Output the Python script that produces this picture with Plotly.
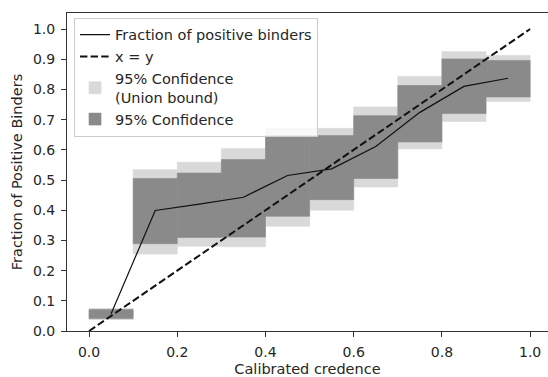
import plotly.graph_objects as go

# Calibration bins (width 0.1) and their centres
bin_left = [0.0, 0.1, 0.2, 0.3, 0.4, 0.5, 0.6, 0.7, 0.8, 0.9]
bin_width = 0.1
bin_centre = [0.05, 0.15, 0.25, 0.35, 0.45, 0.55, 0.65, 0.75, 0.85, 0.95]

# Observed fraction of positive binders per bin
fraction = [0.057, 0.399, 0.420, 0.443, 0.515, 0.537, 0.611, 0.724, 0.810, 0.837]

# 95% confidence interval per bin
ci_low = [0.041, 0.289, 0.310, 0.311, 0.380, 0.435, 0.505, 0.626, 0.720, 0.775]
ci_high = [0.071, 0.505, 0.523, 0.568, 0.647, 0.647, 0.713, 0.813, 0.901, 0.896]

# 95% confidence interval with union bound per bin
ub_low = [0.038, 0.255, 0.281, 0.279, 0.347, 0.400, 0.477, 0.603, 0.694, 0.760]
ub_high = [0.075, 0.534, 0.559, 0.604, 0.671, 0.671, 0.742, 0.843, 0.925, 0.912]

diag = [0.0, 1.0]

font_family = "DejaVu Sans, sans-serif"
text_color = "#262626"
light_grey = "#d9d9d9"
dark_grey = "#8a8a8a"

fig = go.Figure()

fig.add_trace(go.Bar(
    x=bin_centre,
    y=[h - l for h, l in zip(ub_high, ub_low)],
    base=ub_low,
    width=bin_width,
    marker=dict(color=light_grey, line=dict(width=0.6, color=light_grey)),
    name="95% Confidence<br>(Union bound)",
    legendrank=3,
))

fig.add_trace(go.Bar(
    x=bin_centre,
    y=[h - l for h, l in zip(ci_high, ci_low)],
    base=ci_low,
    width=bin_width,
    marker=dict(color=dark_grey, line=dict(width=0.6, color=dark_grey)),
    name="95% Confidence",
    legendrank=4,
))

fig.add_trace(go.Scatter(
    x=diag, y=diag, mode="lines",
    line=dict(color="#111111", width=2, dash="7.4px,3.2px"),
    name="x = y",
    legendrank=2,
))

fig.add_trace(go.Scatter(
    x=bin_centre, y=fraction, mode="lines",
    line=dict(color="#111111", width=1.2),
    name="Fraction of positive binders",
    legendrank=1,
))

axis_common = dict(
    showgrid=False,
    zeroline=False,
    showline=True,
    linecolor="#333333",
    linewidth=1,
    ticks="outside",
    ticklen=5,
    tickwidth=1,
    tickcolor="#333333",
    ticklabelstandoff=3,
    tickfont=dict(family=font_family, size=14, color=text_color),
)

fig.update_layout(
    width=548,
    height=377,
    margin=dict(l=67, r=0, t=13, b=46),
    paper_bgcolor="white",
    plot_bgcolor="white",
    barmode="overlay",
    font=dict(family=font_family, size=14.5, color=text_color),
    xaxis=dict(
        range=[-0.05, 1.0405],
        tickvals=[0.0, 0.2, 0.4, 0.6, 0.8, 1.0],
        ticktext=["0.0", "0.2", "0.4", "0.6", "0.8", "1.0"],
        mirror=True,
        title=dict(text="Calibrated credence", standoff=6,
                   font=dict(family=font_family, size=14.5, color=text_color)),
        **axis_common,
    ),
    yaxis=dict(
        range=[0, 1.053],
        tickvals=[0.0, 0.1, 0.2, 0.3, 0.4, 0.5, 0.6, 0.7, 0.8, 0.9, 1.0],
        ticktext=["0.0", "0.1", "0.2", "0.3", "0.4", "0.5", "0.6", "0.7", "0.8", "0.9", "1.0"],
        title=dict(text="Fraction of Positive Binders", standoff=6,
                   font=dict(family=font_family, size=14.5, color=text_color)),
        **axis_common,
    ),
    legend=dict(
        x=0.0146, y=0.985, xanchor="left", yanchor="top",
        bgcolor="rgba(255,255,255,0.8)",
        bordercolor="#cccccc",
        borderwidth=1,
        font=dict(family=font_family, size=14.5, color=text_color),
        tracegroupgap=0,
        itemwidth=30,
    ),
    showlegend=True,
)

fig.write_html("out.html")
